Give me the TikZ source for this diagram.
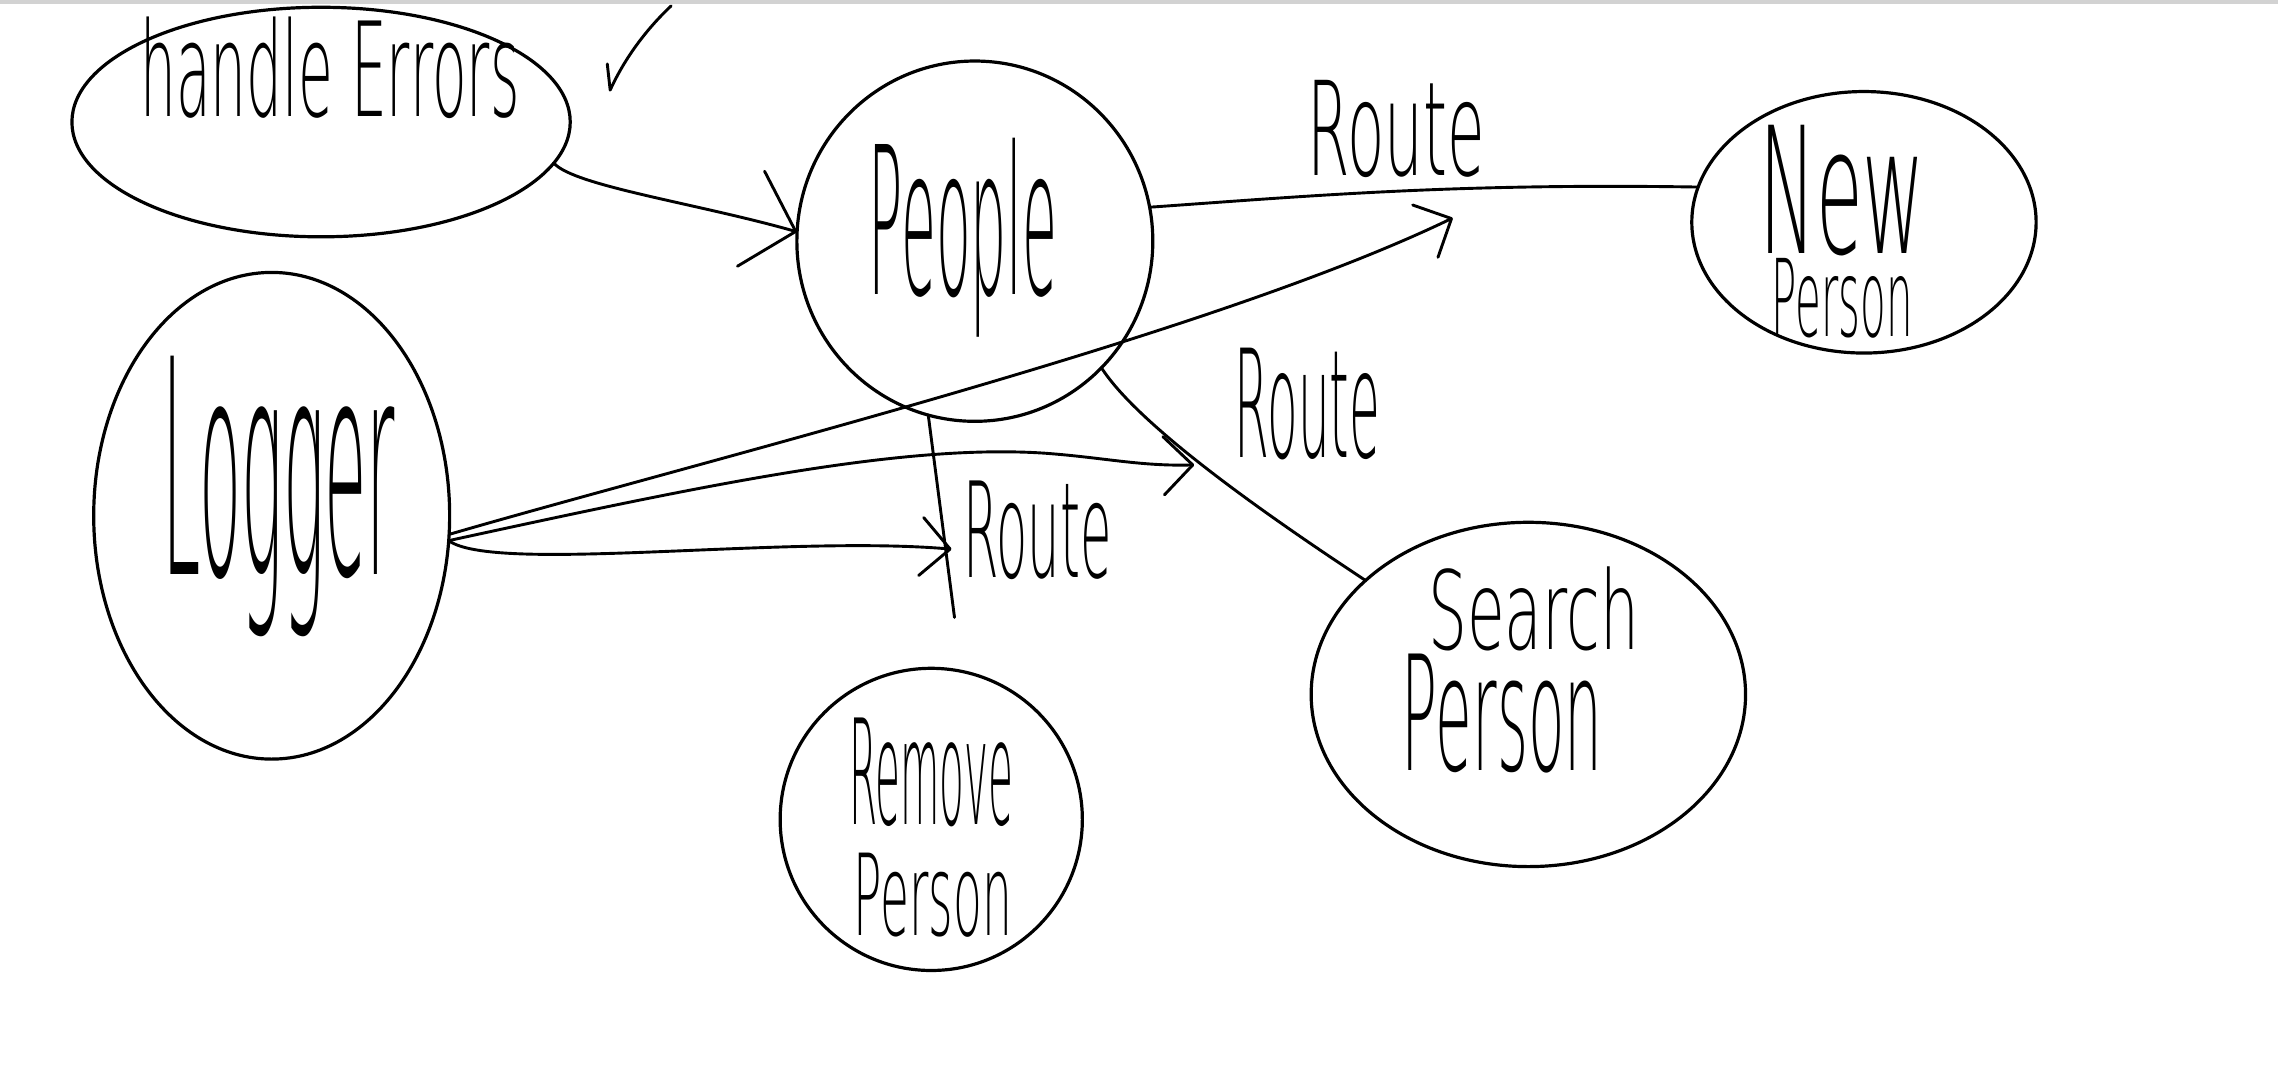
\documentclass[tikz,border=0pt]{standalone}
\usepackage{fontspec}
\usepackage{graphicx}
\setmainfont{DejaVu Sans}
\newfontfamily\hwfont{DejaVu Sans ExtraLight}
\usetikzlibrary{shapes.geometric,arrows.meta}
\newcommand\hwtext[3]{\resizebox*{#1pt}{#2pt}{\hwfont #3}}
\begin{document}
\begin{tikzpicture}[x=1pt,y=-1pt,line width=2pt,
  bubble/.style={draw, ellipse, line width=2.2pt, inner sep=0pt, outer sep=0pt},
  lbl/.style={inner sep=0pt, outer sep=0pt},
  conn/.style={line width=2pt, line cap=round, line join=round},
  arrbig/.style={conn, -{Straight Barb[length=32pt,width=68pt,round]}},
  arrsmall/.style={conn, -{Straight Barb[length=20pt,width=40pt,round]}}]
\useasboundingbox (0,0) rectangle (1568,745);
\fill[gray!35] (0,0) rectangle (1568,2.5);
% bubbles
\node[bubble, minimum width=343pt, minimum height=158pt] (he) at (221,84) {};
\node[bubble, minimum width=245pt, minimum height=248pt] (people) at (671,166) {};
\node[bubble, minimum width=237pt, minimum height=180pt] (newp) at (1283,153) {};
\node[bubble, minimum width=245pt, minimum height=335pt] (logger) at (187,355) {};
\node[bubble, minimum width=299pt, minimum height=237pt] (search) at (1052,478) {};
\node[bubble, minimum width=208pt, minimum height=208pt] (remove) at (641,564) {};
% texts
\node[lbl] (heT) at (227,47) {\hwtext{261}{70}{handle Errors}};
\node[lbl] (peopleT) at (663,163.5) {\hwtext{130}{137}{People}};
\node[lbl] (routeA) at (961,88.5) {\hwtext{122}{67}{Route}};
\node[lbl] (newT) at (1268,160.5) {\begin{tabular}{@{}c@{}}\hwtext{114}{90}{New}\\\hwtext{97}{55}{Person}\end{tabular}};
\node[lbl] (loggerT) at (192,341.5) {\hwtext{160}{193}{Logger}};
\node[lbl] (routeB) at (900,278) {\hwtext{100}{77}{Route}};
\node[lbl] (routeC) at (714,365) {\hwtext{102}{68}{Route}};
\node[lbl] (searchT) at (1046.5,462) {\begin{tabular}{@{}l@{}}\hspace*{18pt}\hwtext{145}{58}{Search}\\\hwtext{138}{82}{Person}\end{tabular}};
\node[lbl] (removeT) at (641,532) {\hwtext{113}{75}{Remove}};
\node[lbl] (removeT2) at (642,616) {\hwtext{109}{58}{Person}};
% free ends
\coordinate (c1) at (1000,150);
\coordinate (c2) at (822,320);
\coordinate (c3) at (655,378);
\coordinate (c4) at (657,425);
% check mark
\draw[conn] (418,44) -- (420,62) .. controls (430,40) and (445,20) .. (462,4);
% connectors
\draw[arrbig] (he.-10) .. controls (395,128) and (480,140) .. (people.177);
\draw[conn] (people.11) .. controls (900,135) and (1000,126) .. (newp.168);
\draw[arrsmall] (logger.-6) .. controls (480,318) and (830,232) .. (c1);
\draw[arrsmall] (logger.-8) .. controls (480,335) and (620,305) .. (720,312) .. controls (760,315) and (785,321) .. (c2);
\draw[arrsmall] (logger.-8) .. controls (340,395) and (540,368) .. (c3);
\draw[conn] (people.-105) -- (c4);
\draw[conn] (people.-45) .. controls (785,295) and (880,360) .. (search.145);
\end{tikzpicture}
\end{document}
